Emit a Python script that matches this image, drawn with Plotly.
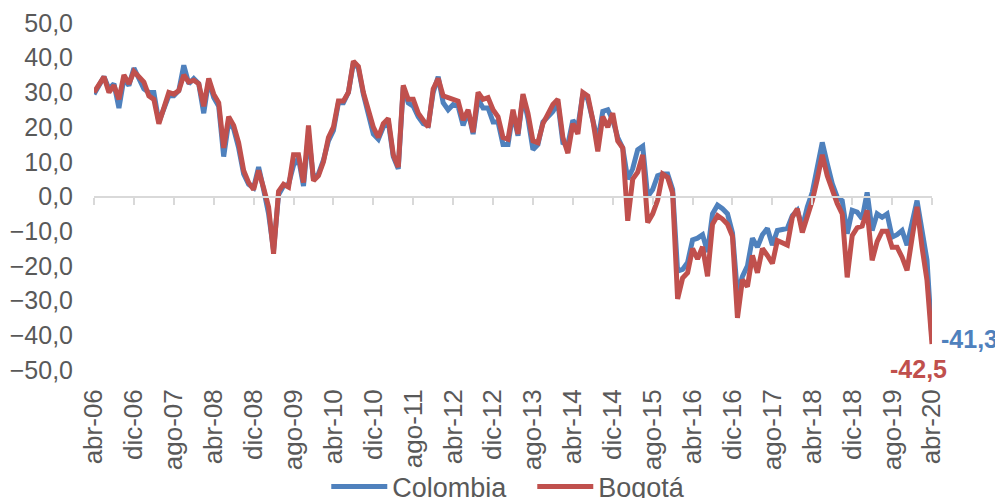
import plotly.graph_objects as go

month_names = ["ene", "feb", "mar", "abr", "may", "jun", "jul", "ago", "sep", "oct", "nov", "dic"]
# monthly categories abr-06 .. abr-20
categories = [f"{month_names[(3 + i) % 12]}-{(6 + (3 + i) // 12):02d}" for i in range(169)]
tick_labels = categories[::8]

colombia = [
    29.5, 32, 34.5, 31, 32.5, 25.5, 34, 32, 37, 34,
    31, 30, 30, 21.5, 25, 29, 29, 30.5, 37.8, 32.5,
    34, 32.5, 24, 33.5, 28.5, 26, 11.5, 21.5, 19.5, 14,
    6.5, 3.5, 2.5, 8.5, 2, -5, -15.5, 0.5, 3, 3.5,
    9, 11, 3, 18, 5, 6.5, 10.5, 16, 19, 27,
    27, 30, 38.5, 37, 29.5, 24, 18, 16.5, 20, 21.5,
    11.5, 8, 31.5, 27, 26, 23, 21, 20.5, 30, 34.5,
    27, 25, 26.5, 26, 20.5, 24.5, 18, 28, 25.5, 25.5,
    21.5, 21.5, 15, 15, 24, 17.5, 29, 22.5, 13.5, 15,
    21.5, 23, 24.5, 27, 15.5, 15, 22, 20, 29.5, 28,
    22, 16, 24.5, 25, 22, 17, 14, 5, 8, 13.5,
    14.5, 0, 2, 6, 6.5, 6.5, 2, -21.5, -21, -19,
    -12.5, -12, -11, -16, -5, -2.5, -3.5, -5, -10.5, -28,
    -23, -20, -12, -14.6, -11, -9.2, -14, -9.8, -9.5, -9.2,
    -5.5, -4, -8.9, -3, 1.2, 8, 15.6, 9.5, 3.7, -0.2,
    -1.2, -10.7, -4, -4.5, -6.4, 1.2, -9.8, -5, -6, -5,
    -11.7, -11, -9.8, -14, -7, -1.2, -9.8, -18.4, -41.3,
]

bogota = [
    30, 32, 34.5, 30, 32, 28, 35, 32.5, 36, 34.5,
    33, 29, 28, 21, 25, 30, 29.5, 30.5, 35, 33,
    33.5, 32.5, 26, 34, 29.5, 27, 14, 23, 20.5, 15.5,
    7.5, 4, 2, 7.5, 2.5, -3, -16.5, 1.5, 3.5, 2.7,
    12, 12, 4, 20.5, 4.5, 6, 10, 17, 20, 27.5,
    27.5, 30, 39, 37.5, 30, 25, 20, 17, 21, 22.5,
    12, 8.5, 32, 28, 28, 24, 22, 20, 31, 34,
    29, 28.5, 28, 27.5, 22, 25, 18.5, 30, 28, 28.5,
    25, 23, 17, 16.5, 25, 18, 29.5, 24, 16, 15.5,
    21, 24, 26.5, 28, 17, 12.5, 21, 18, 30, 29,
    22, 13, 23, 20, 24, 16, 14, -7, 5, 7,
    12, -7.5, -5, -1, 6.5, 5.5, 1, -29.5, -23.5, -22,
    -15, -18, -14.5, -23, -8, -5.5, -6.5, -8, -11.5, -35,
    -24, -26, -17, -22, -15, -17, -19.3, -12.7, -13.5, -14,
    -6, -3.5, -10.4, -6, -1.2, 5, 12, 6, 1.7, -2,
    -5, -23.3, -11.3, -9, -8.5, -4, -18.4, -13, -10, -10,
    -14.6, -14.6, -17.5, -21.3, -12, -3, -14.6, -24.2, -42.5,
]

BLUE = "#4F81BD"
RED = "#C0504D"
GREY = "#595959"
FONT = "Liberation Sans, Arial, sans-serif"
FS = 25

fig = go.Figure()
fig.add_trace(go.Scatter(x=categories, y=colombia, mode="lines", name="Colombia",
                         line=dict(color=BLUE, width=5)))
fig.add_trace(go.Scatter(x=categories, y=bogota, mode="lines", name="Bogotá",
                         line=dict(color=RED, width=5)))
# invisible helper trace to carry the bottom label axis
fig.add_trace(go.Scatter(x=categories, y=bogota, xaxis="x2", mode="lines",
                         line=dict(width=0), opacity=0, showlegend=False, hoverinfo="skip"))

fig.add_annotation(x=categories[-1], y=colombia[-1], text="<b>-41,3</b>", showarrow=False,
                   xanchor="left", yanchor="middle", xshift=7, yshift=1,
                   font=dict(color=BLUE, size=FS, family=FONT))
fig.add_annotation(x=categories[-1], y=bogota[-1], text="<b>-42,5</b>", showarrow=False,
                   xanchor="right", yanchor="middle", xshift=17, yshift=-25,
                   font=dict(color=RED, size=FS, family=FONT))

fig.update_layout(
    width=995, height=490,
    margin=dict(l=86, r=71, t=15, b=128, autoexpand=False),
    paper_bgcolor="white", plot_bgcolor="white",
    separators=",.",
    font=dict(family=FONT, size=FS, color=GREY),
    showlegend=True,
    legend=dict(orientation="h", x=0.523, xanchor="center", y=-0.337, yanchor="middle",
                font=dict(size=27, color=GREY, family=FONT), itemwidth=56,
                entrywidth=135, entrywidthmode="pixels",
                bgcolor="rgba(0,0,0,0)"),
    xaxis=dict(type="category", categoryorder="array", categoryarray=categories,
               range=[0, 168], anchor="free", position=0.5, automargin=False,
               showline=True, linecolor="#D9D9D9", linewidth=2,
               ticks="outside", ticklen=7, tickwidth=2, tickcolor="#D9D9D9",
               tickvals=tick_labels, showticklabels=False, showgrid=False, zeroline=False),
    xaxis2=dict(type="category", categoryorder="array", categoryarray=categories,
                range=[0, 168], overlaying="x", anchor="y", side="bottom", automargin=False,
                showline=False, ticks="", tickvals=tick_labels, ticktext=tick_labels,
                tickangle=-90, ticklabelstandoff=13, showgrid=False, zeroline=False,
                tickfont=dict(size=26, color=GREY, family=FONT)),
    yaxis=dict(range=[-50, 50], dtick=10, tickformat=".1f", showgrid=False, zeroline=False,
               showline=False, ticks="", ticklabelstandoff=20, automargin=False,
               tickfont=dict(size=FS, color=GREY, family=FONT)),
)

fig.write_html("out.html")
